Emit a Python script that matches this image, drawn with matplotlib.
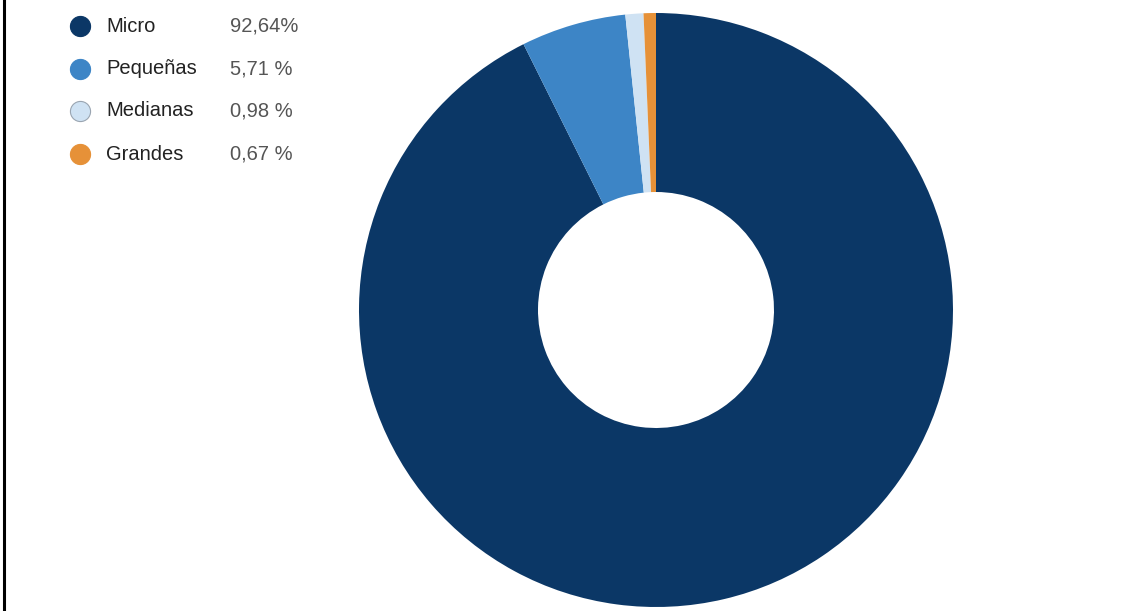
import matplotlib.pyplot as plt
from matplotlib.lines import Line2D

# Company size distribution (share of firms)
labels = ["Micro", "Pequeñas", "Medianas", "Grandes"]
values = [92.64, 5.71, 0.98, 0.67]
value_text = ["92,64%", "5,71 %", "0,98 %", "0,67 %"]
colors = ["#0b3766", "#3d85c6", "#cfe2f3", "#e69138"]

W, H = 1130, 611
fig = plt.figure(figsize=(W / 100, H / 100), dpi=100)
fig.patch.set_facecolor("white")

# Donut: centre (656, 310) px, outer radius ~297 px, hole ~118 px
cx, cy, r = 656, 310, 297
ax = fig.add_axes([(cx - r) / W, (H - cy - r) / H, 2 * r / W, 2 * r / H])
ax.pie(values, colors=colors, startangle=90, counterclock=False,
       radius=1, wedgeprops=dict(width=1 - 118 / 297, linewidth=0))
ax.set_xlim(-1, 1)
ax.set_ylim(-1, 1)
ax.set_aspect("equal")
ax.axis("off")

# Legend drawn by hand so the percentages line up in a column
ys = [26, 69, 111, 154]
for lab, txt, col, y in zip(labels, value_text, colors, ys):
  fy = 1 - y / H
  edge = "#9aa5b1" if col == "#cfe2f3" else col
  fig.add_artist(Line2D([80 / W], [fy], marker="o", markersize=14.5,
                        markerfacecolor=col, markeredgecolor=edge,
                        markeredgewidth=0.8, linestyle="none"))
  fig.text(106 / W, fy, lab, fontsize=14.5, family="Liberation Sans",
           color="#222222", va="center", ha="left")
  fig.text(230 / W, fy, txt, fontsize=14.5, family="Liberation Sans",
           color="#555555", va="center", ha="left")

# Black frame line on the left edge
fig.add_artist(Line2D([4 / W, 4 / W], [0, 1], color="black", linewidth=2.2))

fig.savefig("out.png", dpi=100, facecolor="white")
